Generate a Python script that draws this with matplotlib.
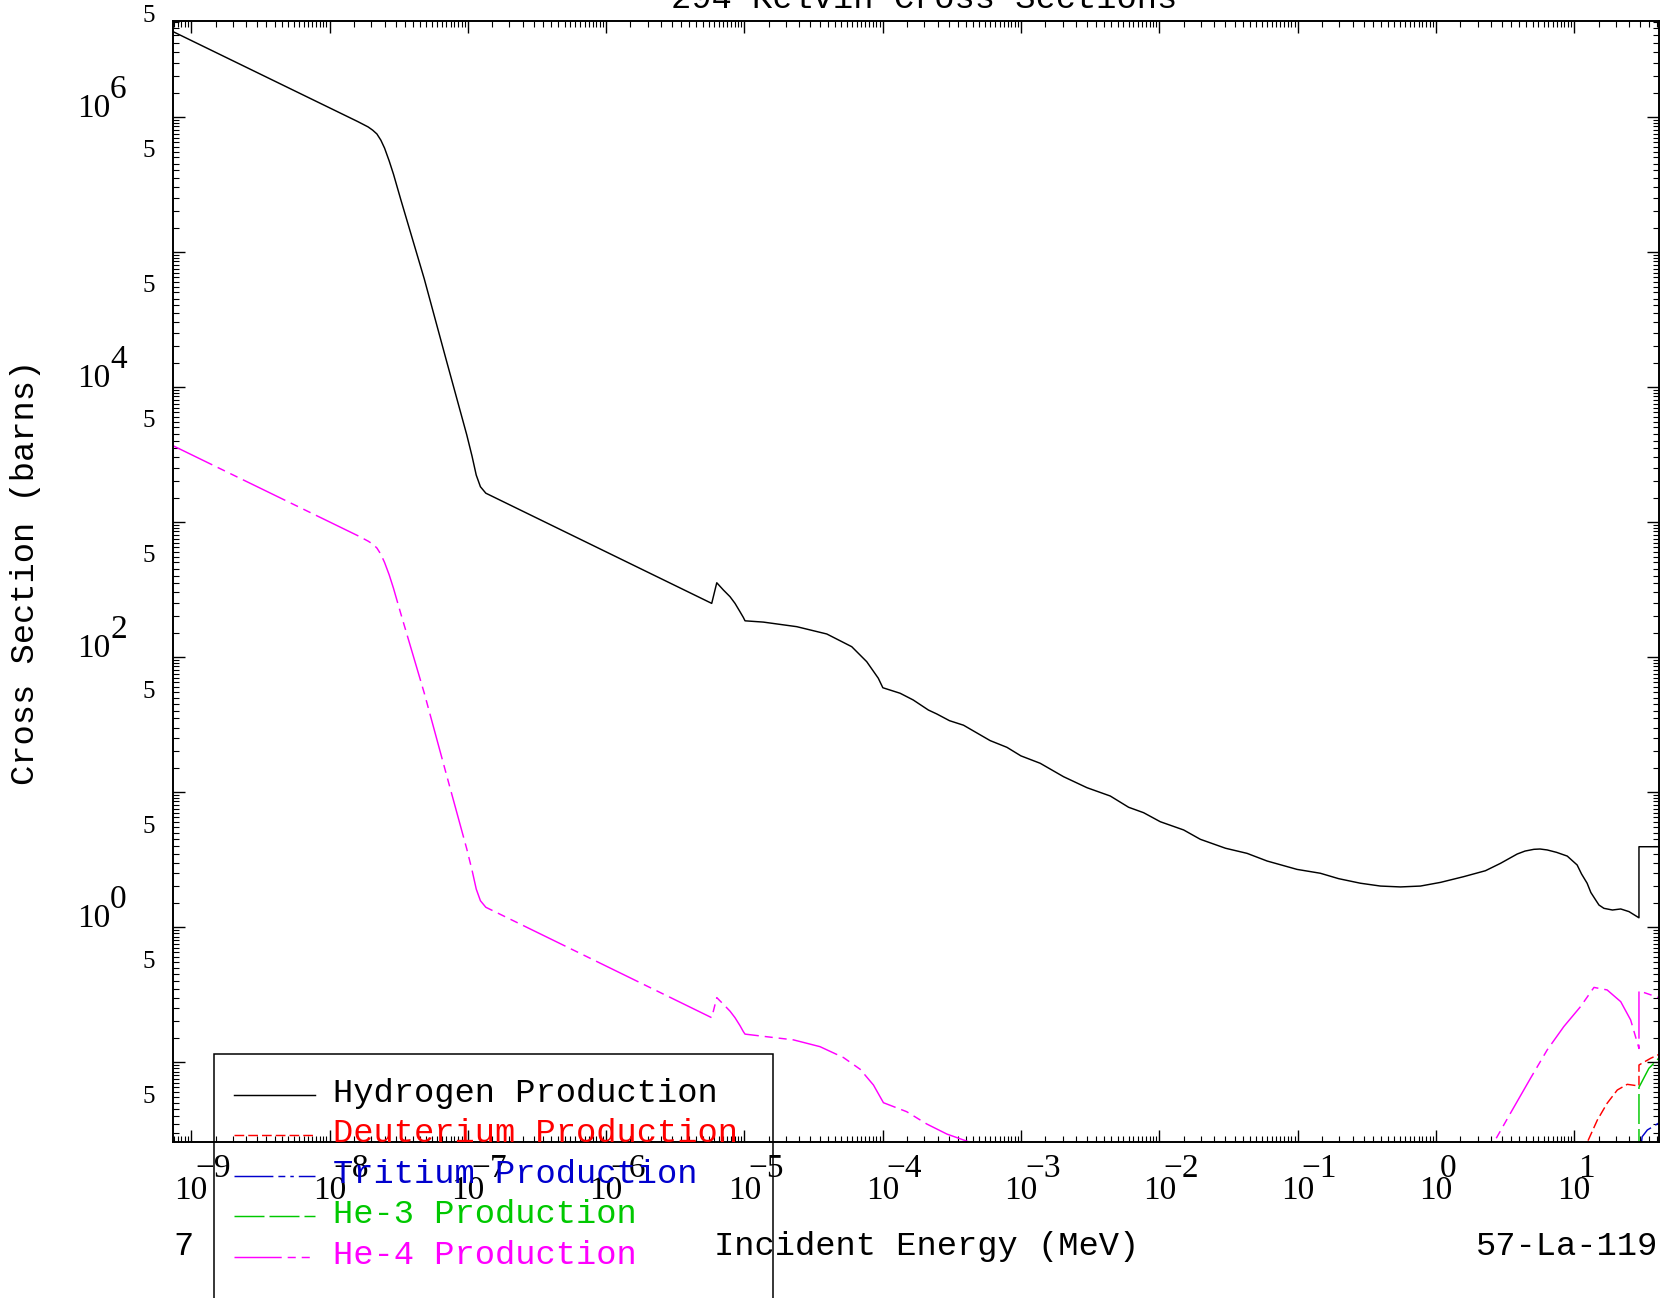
import numpy as np
import matplotlib
matplotlib.use("Agg")
import matplotlib.pyplot as plt
from matplotlib.ticker import LogLocator, NullFormatter
from matplotlib.lines import Line2D
from matplotlib.patches import Rectangle
import matplotlib.transforms as mtransforms

plt.rcParams['lines.scale_dashes'] = False
plt.rcParams['font.family'] = ['Liberation Serif', 'DejaVu Serif']

# ---------------- data ----------------
title = "294 Kelvin Cross Sections"
x_label = "Incident Energy (MeV)"
y_label = "Cross Section (barns)"
material = "57-La-119"
corner_note = "7"

series_labels = ["Hydrogen Production", "Deuterium Production", "Tritium Production",
                 "He-3 Production", "He-4 Production"]
series_colors = ["#000000", "#ff0000", "#0000cd", "#00c800", "#ff00ff"]

hydrogen_energy = [7.0e-10, 1.6e-8, 1.9e-8, 2.05e-8, 2.2e-8, 2.35e-8, 2.5e-8, 2.7e-8,
                   2.9e-8, 3.28e-8, 4.84e-8, 6.90e-8, 9.82e-8, 1.072e-7, 1.15e-7, 1.233e-7,
                   1.349e-7, 5.80e-6, 6.31e-6, 7.04e-6, 7.87e-6, 8.55e-6, 9.29e-6, 9.82e-6,
                   1.01e-5, 1.37e-5, 2.39e-5, 3.94e-5, 5.97e-5, 7.66e-5, 9.29e-5, 1.002e-4,
                   1.336e-4, 1.66e-4, 2.14e-4, 2.46e-4, 3.04e-4, 3.84e-4, 5.98e-4, 7.91e-4,
                   9.98e-4, 1.377e-3, 2.03e-3, 3.00e-3, 4.42e-3, 6.00e-3, 7.70e-3, 1.016e-2,
                   1.50e-2, 1.98e-2, 3.01e-2, 4.31e-2, 6.02e-2, 9.91e-2, 0.146, 0.198, 0.284,
                   0.397, 0.554, 0.773, 1.08, 1.59, 2.28, 2.93, 3.87, 4.41, 5.11, 5.66, 6.38,
                   7.46, 8.91, 9.59, 10.5, 11.3, 12.4, 13.2, 14.3, 15.1, 16.4, 18.9, 21.7,
                   24.9, 29.4, 29.4, 45.0]
hydrogen_xs = [4.38e6, 9.2e5, 8.4e5, 7.95e5, 7.45e5, 6.7e5, 5.85e5, 4.7e5,
               3.75e5, 2.42e5, 6.3e4, 1.65e4, 4.41e3, 3.07e3, 2.22e3, 1.82e3,
               1.63e3, 249, 354, 313, 279, 249, 216, 196,
               185, 181, 167.4, 147.8, 119, 92.2, 69.5, 59.1,
               53.8, 48.0, 40.4, 37.8, 33.7, 31.2, 24.0, 21.4,
               18.5, 16.3, 12.97, 10.75, 9.33, 7.70, 7.02, 6.02,
               5.23, 4.46, 3.83, 3.51, 3.08, 2.67, 2.50, 2.28, 2.11,
               2.01, 1.98, 2.01, 2.14, 2.36, 2.61, 2.96, 3.47, 3.65, 3.76, 3.78, 3.72,
               3.57, 3.35, 3.13, 2.88, 2.47, 2.11, 1.80, 1.585, 1.455, 1.375, 1.336, 1.36,
               1.30, 1.17, 3.93, 3.93]

deuterium_energy = [11.5, 12.4, 14.7, 17.3, 20.5, 24.2, 29.4, 29.4, 35.7, 45.0]
deuterium_xs = [0.0211, 0.0253, 0.0372, 0.0495, 0.0621, 0.0684, 0.0665, 0.0951, 0.1066, 0.119]

tritium_energy = [29.4, 31.0, 33.8, 45.0]
tritium_xs = [0.018, 0.028, 0.0314, 0.0375]

he3_energy = [29.4, 29.4, 34.7, 45.0]
he3_xs = [0.001, 0.065, 0.0899, 0.118]

he4_energy = [7.0e-10, 1.6e-8, 1.9e-8, 2.05e-8, 2.2e-8, 2.35e-8, 2.5e-8, 2.7e-8,
              2.9e-8, 3.28e-8, 4.84e-8, 6.90e-8, 9.82e-8, 1.072e-7, 1.15e-7, 1.233e-7,
              1.349e-7, 5.80e-6, 6.31e-6, 7.04e-6, 7.87e-6, 8.55e-6, 9.29e-6, 9.82e-6,
              1.01e-5, 1.45e-5, 2.26e-5, 3.52e-5, 5.20e-5, 6.87e-5, 8.57e-5, 1.012e-4,
              1.49e-4, 2.08e-4, 2.91e-4, 4.17e-4, 6.0e-4, 1.0e-3, 1.0, 2.3, 2.62, 3.46,
              4.83, 6.38, 8.41, 11.1, 13.9, 17.3, 21.7, 25.6, 29.4, 29.4, 45.0]
he4_xs = [3.76e3, 7.9e2, 7.2e2, 6.85e2, 6.4e2, 5.75e2, 5.0e2, 4.05e2,
          3.22e2, 2.08e2, 54.0, 14.2, 3.79, 2.64, 1.91, 1.565,
          1.40, 0.213, 0.300, 0.268, 0.238, 0.213, 0.186, 0.168,
          0.161, 0.154, 0.146, 0.130, 0.108, 0.0884, 0.0676, 0.050,
          0.0429, 0.0348, 0.0293, 0.0257, 0.0223, 0.017, 0.002, 0.020, 0.0253, 0.0418,
          0.0758, 0.123, 0.183, 0.257, 0.357, 0.342, 0.280, 0.205, 0.126, 0.337, 0.29]

energy_range = (7.38e-10, 40.7)
xs_range = (0.0255, 5.155e6)
x_label_decades = list(range(-9, 2))
y_label_decades = [0, 2, 4, 6]
y_five_decades = list(range(-2, 7))

series_energy = [hydrogen_energy, deuterium_energy, tritium_energy, he3_energy, he4_energy]
series_xs = [hydrogen_xs, deuterium_xs, tritium_xs, he3_xs, he4_xs]
series_styles = [
    '-',
    (0, (7.0, 2.9)),
    (0, (28.0, 3.6, 5.0, 3.6, 2.5, 3.6)),
    (0, (21.6, 3.6)),
    (0, (34.0, 4.3, 5.8, 4.3, 5.8, 4.3)),
]

# ---------------- figure ----------------
W, H = 1663, 1298
fig = plt.figure(figsize=(W / 100, H / 100), dpi=100)
fig.patch.set_facecolor('white')


def fx(p):
    return p / W


def fy(p):
    return 1 - p / H


L, R, T, B = 173, 1658.5, 20.5, 1142.2
ax = fig.add_axes([fx(L), fy(B), (R - L) / W, (B - T) / H])
ax.set_xscale('log')
ax.set_yscale('log')

for e, s, c, st in zip(series_energy, series_xs, series_colors, series_styles):
    ax.plot(e, s, color=c, lw=1.05, linestyle=st, solid_joinstyle='round')

ax.set_xlim(*energy_range)
ax.set_ylim(*xs_range)

subs = np.arange(1.5, 10.0, 0.5)
for axis in (ax.xaxis, ax.yaxis):
    axis.set_major_locator(LogLocator(base=10, numticks=100))
    axis.set_minor_locator(LogLocator(base=10, subs=subs, numticks=100))
    axis.set_major_formatter(NullFormatter())
    axis.set_minor_formatter(NullFormatter())
ax.tick_params(which='both', direction='in', top=True, right=True,
               labelbottom=False, labelleft=False)
ax.tick_params(which='major', length=8.5, width=1.0)
ax.tick_params(which='minor', length=4.5, width=0.8)
for sp in ax.spines.values():
    sp.set_linewidth(1.4)

# tick labels
num_font = 'Liberation Serif'
trans_x = mtransforms.blended_transform_factory(ax.transData, fig.transFigure)
exp_shift = mtransforms.ScaledTranslation(4 / 100, 0, fig.dpi_scale_trans)
for k in x_label_decades:
    e = 10.0 ** k
    ax.text(e, fy(1199), "10", transform=trans_x, ha='center', va='baseline',
            fontsize=24, family=num_font, clip_on=False)
    ax.text(e, fy(1177), str(k).replace('-', '\u2212'), transform=trans_x + exp_shift,
            ha='left', va='baseline', fontsize=24, family=num_font, clip_on=False)

trans_y = mtransforms.blended_transform_factory(fig.transFigure, ax.transData)
up_shift = mtransforms.ScaledTranslation(0, 19 / 100, fig.dpi_scale_trans)
for k in y_label_decades:
    v = 10.0 ** k
    ax.text(fx(110), v, "10", transform=trans_y, ha='right', va='baseline',
            fontsize=24, family=num_font, clip_on=False)
    ax.text(fx(110), v, str(k), transform=trans_y + up_shift, ha='left', va='baseline',
            fontsize=24, family=num_font, clip_on=False)
for k in y_five_decades:
    v = 5 * 10.0 ** k
    ax.text(fx(149), v, "5", transform=trans_y, ha='center', va='baseline',
            fontsize=18, family=num_font, clip_on=False)

# labels
lab_font = dict(family='Liberation Mono', fontsize=24.3)
fig.text(fx(924), fy(7.5), title, ha='center', va='baseline', **lab_font)
fig.text(fx(926.5), fy(1255), x_label, ha='center', va='baseline', **lab_font)
fig.text(fx(1658), fy(1255), material, ha='right', va='baseline', **lab_font)
fig.text(fx(173), fy(1255), corner_note, ha='left', va='baseline', **lab_font)
fig.text(fx(26), fy(572.7), y_label, rotation=90, ha='center', va='center', **lab_font)

# legend (manual, box runs off the bottom of the page)
fig.add_artist(Rectangle((fx(214), fy(1330)), fx(773) - fx(214), fy(1054) - fy(1330),
                         transform=fig.transFigure, fill=False, ec='black', lw=1.1,
                         clip_on=False))
baselines = [1101.7, 1141.7, 1182.7, 1223.3, 1264.0]
for lab, c, st, bl in zip(series_labels, series_colors, series_styles, baselines):
    fig.add_artist(Line2D([fx(233.7), fx(315.3)], [fy(bl - 7), fy(bl - 7)],
                          transform=fig.transFigure, color=c, lw=1.05, linestyle=st))
    fig.text(fx(333), fy(bl), lab, color=c, ha='left', va='baseline', **lab_font)

fig.savefig("out.png", dpi=100)
